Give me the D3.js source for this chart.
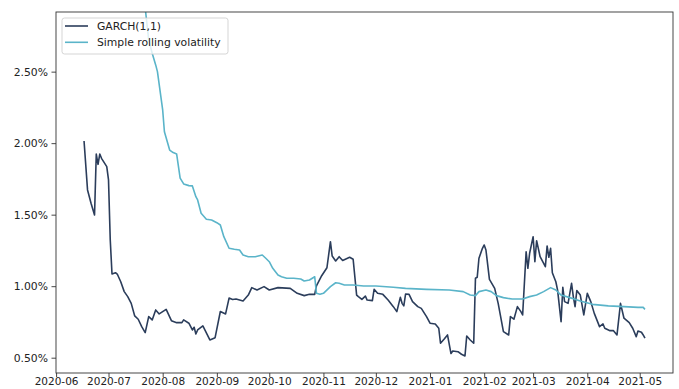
<!DOCTYPE html>
<html>
<head>
<meta charset="utf-8">
<script src="https://cdn.jsdelivr.net/npm/d3@7"></script>
<style>
  html, body { margin: 0; padding: 0; background: #ffffff; }
  svg { display: block; font-family: "DejaVu Sans", sans-serif; }
</style>
</head>
<body>
<svg id="chart" width="679" height="389"></svg>
<script>
// Conditional volatility from a GARCH(1,1) fit (daily, in %)
const garchDates = [
  "2020-06-17","2020-06-19","2020-06-21","2020-06-23","2020-06-24","2020-06-25","2020-06-26","2020-06-27",
  "2020-06-30","2020-07-01","2020-07-02","2020-07-03","2020-07-05","2020-07-06","2020-07-08","2020-07-10",
  "2020-07-12","2020-07-14","2020-07-16","2020-07-18","2020-07-20","2020-07-22","2020-07-24","2020-07-26",
  "2020-07-28","2020-07-30","2020-08-01","2020-08-03","2020-08-06","2020-08-09","2020-08-12","2020-08-13",
  "2020-08-16","2020-08-18","2020-08-19","2020-08-20","2020-08-21","2020-08-24","2020-08-28","2020-08-31",
  "2020-09-03","2020-09-06","2020-09-08","2020-09-10","2020-09-12","2020-09-16","2020-09-19","2020-09-21",
  "2020-09-24","2020-09-28","2020-10-01","2020-10-06","2020-10-13","2020-10-17","2020-10-21","2020-10-24",
  "2020-10-27","2020-10-28","2020-10-31","2020-11-03","2020-11-05","2020-11-06","2020-11-08","2020-11-10",
  "2020-11-12","2020-11-16","2020-11-18","2020-11-20","2020-11-21","2020-11-23","2020-11-25","2020-11-26",
  "2020-11-29","2020-11-30","2020-12-02","2020-12-05","2020-12-08","2020-12-11","2020-12-13","2020-12-15",
  "2020-12-16","2020-12-17","2020-12-18","2020-12-20","2020-12-22","2020-12-25","2020-12-27","2020-12-30",
  "2021-01-01","2021-01-04","2021-01-06","2021-01-07","2021-01-09","2021-01-11","2021-01-13","2021-01-14",
  "2021-01-17","2021-01-19","2021-01-21","2021-01-22","2021-01-24","2021-01-26","2021-01-27","2021-01-28",
  "2021-01-29","2021-01-31","2021-02-01","2021-02-02","2021-02-04","2021-02-07","2021-02-09","2021-02-12",
  "2021-02-15","2021-02-16","2021-02-18","2021-02-20","2021-02-22","2021-02-23","2021-02-25","2021-02-26",
  "2021-02-27","2021-03-01","2021-03-02","2021-03-03","2021-03-05","2021-03-08","2021-03-09","2021-03-10",
  "2021-03-11","2021-03-12","2021-03-14","2021-03-15","2021-03-17","2021-03-18","2021-03-19","2021-03-21",
  "2021-03-23","2021-03-24","2021-03-25","2021-03-26","2021-03-28","2021-03-30","2021-04-01","2021-04-03",
  "2021-04-05","2021-04-08","2021-04-10","2021-04-11","2021-04-14","2021-04-16","2021-04-18","2021-04-20",
  "2021-04-22","2021-04-25","2021-04-27","2021-04-29","2021-04-30","2021-05-02","2021-05-03","2021-05-04"
];
const garchValues = [
  2.015,1.673,1.580,1.498,1.924,1.852,1.924,1.894,
  1.836,1.743,1.323,1.085,1.094,1.085,1.031,0.962,
  0.927,0.880,0.792,0.769,0.717,0.675,0.787,0.764,
  0.834,0.806,0.822,0.838,0.759,0.745,0.745,0.764,
  0.741,0.694,0.713,0.666,0.694,0.722,0.624,0.640,
  0.823,0.806,0.917,0.907,0.910,0.897,0.938,0.990,
  0.973,0.997,0.973,0.990,0.985,0.950,0.934,0.943,
  0.943,1.003,1.073,1.129,1.311,1.211,1.176,1.206,
  1.180,1.202,1.188,0.938,0.927,0.908,0.931,0.903,
  0.899,0.978,0.950,0.943,0.903,0.857,0.822,0.922,
  0.880,0.862,0.945,0.943,0.892,0.857,0.845,0.787,
  0.741,0.736,0.706,0.601,0.629,0.659,0.529,0.547,
  0.542,0.524,0.512,0.652,0.624,0.601,1.055,1.062,
  1.195,1.265,1.288,1.253,1.048,0.985,0.880,0.682,
  0.659,0.787,0.769,0.857,0.822,0.799,1.241,1.125,
  1.230,1.346,1.171,1.318,1.206,1.136,1.281,1.202,
  1.265,1.094,1.031,0.973,0.752,0.992,0.892,0.880,
  1.020,0.927,0.857,0.969,0.938,0.799,0.950,0.892,
  0.810,0.717,0.736,0.706,0.689,0.689,0.659,0.880,
  0.776,0.745,0.706,0.647,0.687,0.678,0.659,0.636
];

// Simple rolling-window volatility (in %)
const rollingDates = [
  "2020-07-22","2020-07-24","2020-07-26","2020-07-28","2020-07-29","2020-08-01","2020-08-02","2020-08-05",
  "2020-08-07","2020-08-09","2020-08-11","2020-08-13","2020-08-16","2020-08-18","2020-08-20","2020-08-21",
  "2020-08-23","2020-08-26","2020-08-29","2020-09-01","2020-09-03","2020-09-05","2020-09-08","2020-09-11",
  "2020-09-14","2020-09-16","2020-09-19","2020-09-23","2020-09-27","2020-09-29","2020-10-01","2020-10-03",
  "2020-10-06","2020-10-08","2020-10-11","2020-10-15","2020-10-19","2020-10-21","2020-10-24","2020-10-27",
  "2020-10-28","2020-10-30","2020-11-01","2020-11-05","2020-11-08","2020-11-10","2020-11-13","2020-11-18",
  "2020-11-24","2020-12-01","2020-12-11","2020-12-18","2020-12-30","2021-01-12","2021-01-20","2021-01-24",
  "2021-01-27","2021-01-29","2021-02-02","2021-02-05","2021-02-08","2021-02-12","2021-02-17","2021-02-23",
  "2021-02-27","2021-03-03","2021-03-07","2021-03-11","2021-03-14","2021-03-17","2021-03-22","2021-03-28",
  "2021-04-04","2021-04-13","2021-04-22","2021-04-30","2021-05-03","2021-05-04"
];
const rollingValues = [
  2.945,2.722,2.629,2.547,2.500,2.232,2.080,1.952,
  1.934,1.924,1.755,1.715,1.703,1.701,1.626,1.603,
  1.510,1.468,1.463,1.444,1.428,1.346,1.265,1.258,
  1.253,1.218,1.206,1.206,1.218,1.195,1.171,1.125,
  1.078,1.066,1.055,1.055,1.050,1.036,1.043,1.066,
  0.950,0.943,0.950,0.997,1.024,1.020,1.008,1.008,
  1.001,1.001,0.992,0.985,0.978,0.973,0.962,0.938,
  0.934,0.962,0.973,0.962,0.934,0.920,0.910,0.910,
  0.927,0.938,0.962,0.990,0.973,0.938,0.920,0.897,
  0.873,0.862,0.857,0.852,0.852,0.838
];

const seriesNames = ["GARCH(1,1)", "Simple rolling volatility"];
const seriesColors = ["#2b3d5b", "#5ab4c9"];
const yTickValues = [0.5, 1.0, 1.5, 2.0, 2.5];
const yLimits = [0.393, 2.917];

const parseDate = d3.timeParse("%Y-%m-%d");
const garch = garchDates.map((d, i) => ({ date: parseDate(d), value: garchValues[i] }));
const rolling = rollingDates.map((d, i) => ({ date: parseDate(d), value: rollingValues[i] }));

const svg = d3.select("#chart");
const margin = { left: 56, right: 6, top: 12, bottom: 16 };
const width = 679, height = 389;
const plotW = width - margin.left - margin.right;
const plotH = height - margin.top - margin.bottom;

// x range: data extent padded by 5% on each side
const ext = d3.extent(garch.concat(rolling), d => d.date);
const pad = (ext[1] - ext[0]) * 0.05;
const x = d3.scaleTime()
  .domain([new Date(+ext[0] - pad), new Date(+ext[1] + pad)])
  .range([margin.left, margin.left + plotW]);
const y = d3.scaleLinear().domain(yLimits).range([margin.top + plotH, margin.top]);

svg.append("defs").append("clipPath").attr("id", "plot-clip")
  .append("rect")
  .attr("x", margin.left).attr("y", margin.top)
  .attr("width", plotW).attr("height", plotH);

const line = d3.line().x(d => x(d.date)).y(d => y(d.value));

const lines = svg.append("g").attr("clip-path", "url(#plot-clip)");
[garch, rolling].forEach((s, i) => {
  lines.append("path")
    .datum(s)
    .attr("fill", "none")
    .attr("stroke", seriesColors[i])
    .attr("stroke-width", 1.6)
    .attr("stroke-linejoin", "round")
    .attr("d", line);
});

// Axes
const xAxis = d3.axisBottom(x)
  .ticks(d3.timeMonth.every(1))
  .tickFormat(d3.timeFormat("%Y-%m"))
  .tickSize(4).tickPadding(1);
const yAxis = d3.axisLeft(y)
  .tickValues(yTickValues)
  .tickFormat(d => d3.format(".2f")(d) + "%")
  .tickSize(4.5).tickPadding(3.5);

const gx = svg.append("g")
  .attr("transform", `translate(0,${margin.top + plotH})`)
  .call(xAxis);
const gy = svg.append("g")
  .attr("transform", `translate(${margin.left},0)`)
  .call(yAxis);
[gx, gy].forEach(g => {
  g.select(".domain").remove();
  g.selectAll(".tick line").attr("stroke", "#333").attr("stroke-width", 0.9);
  g.selectAll(".tick text").attr("fill", "#222").style("font-size", "10.8px")
    .style("font-family", "'DejaVu Sans', sans-serif");
});
gx.selectAll(".tick text").style("font-size", "10.5px");

// Frame
svg.append("rect")
  .attr("x", margin.left).attr("y", margin.top)
  .attr("width", plotW).attr("height", plotH)
  .attr("fill", "none").attr("stroke", "#333").attr("stroke-width", 0.9);

// Legend
const legend = svg.append("g").attr("transform", "translate(62,18)");
legend.append("rect")
  .attr("width", 166).attr("height", 36).attr("rx", 2.5)
  .attr("fill", "#ffffff").attr("fill-opacity", 0.8)
  .attr("stroke", "#d0d0d0").attr("stroke-width", 0.9);
seriesNames.forEach((name, i) => {
  const row = legend.append("g").attr("transform", `translate(0,${8 + i * 16.3})`);
  row.append("line")
    .attr("x1", 3).attr("x2", 26)
    .attr("stroke", seriesColors[i]).attr("stroke-width", 1.6);
  row.append("text")
    .attr("x", 35).attr("dy", "0.35em")
    .attr("fill", "#222")
    .style("font-size", "10.8px")
    .text(name);
});
</script>
</body>
</html>
